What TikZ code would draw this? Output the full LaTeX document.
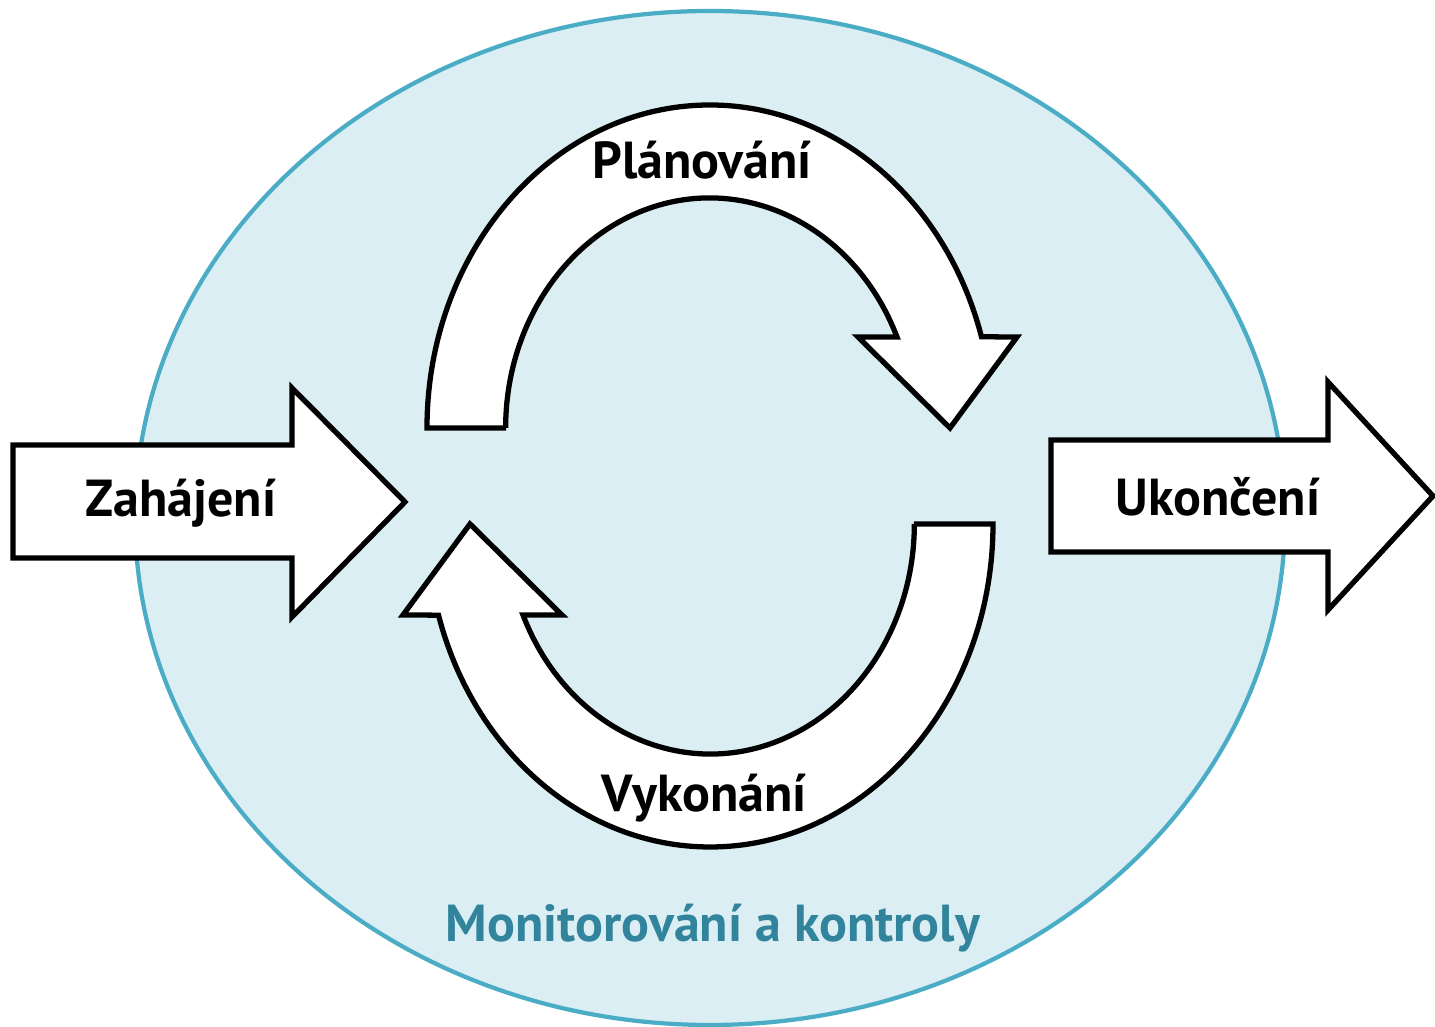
\documentclass[tikz,border=0pt]{standalone}
\usepackage{fontspec}
\setmainfont{PT Sans}
\usetikzlibrary{positioning}

\definecolor{cyclefill}{HTML}{DAEEF3}
\definecolor{cycleline}{HTML}{4BACC6}
\definecolor{cycletext}{HTML}{31849B}

\tikzset{
  blockarrow/.style={draw=black, line width=1.5pt, fill=white, line join=miter},
  phaselabel/.style={font=\fontsize{14.8}{17}\selectfont\bfseries}
}

\begin{document}
\begin{tikzpicture}[x=0.1mm,y=0.1mm]
\useasboundingbox (0,0) rectangle (1435,1027);
% Monitoring area
\draw[fill=cyclefill, draw=cycleline, line width=1.2pt] (710,509) ellipse [x radius=575, y radius=507];
% Start and end arrows
\draw[blockarrow] (13,582) -- (292,582) -- (292,639) -- (405,525) -- (292,410) -- (292,469) -- (13,469) -- cycle;
\draw[blockarrow] (1051,587) -- (1328,587) -- (1328,645) -- (1433,531) -- (1328,417) -- (1328,475) -- (1051,475) -- cycle;
% Planning / execution loop
\foreach \r in {0,180}
  \draw[blockarrow, rotate around={\r:(710,551)}] (506,599) -- (427,599)
    arc[start angle=180, end angle=16.4, x radius=283, y radius=323]
    -- (1017,690) -- (950,599) -- (858,690) -- (897,690)
    arc[start angle=23.3, end angle=180, x radius=204, y radius=230] -- cycle;
% Labels
\node[phaselabel] (start) at (181,524) {Zahájení};
\node[phaselabel] (close) at (1218,530) {Ukončení};
\node[phaselabel] (plan) at (702,867) {Plánování};
\node[phaselabel] (exec) at (704,229) {Vykonání};
\node[phaselabel, text=cycletext] (monitor) at (713,99) {Monitorování a kontroly};
\end{tikzpicture}
\end{document}
